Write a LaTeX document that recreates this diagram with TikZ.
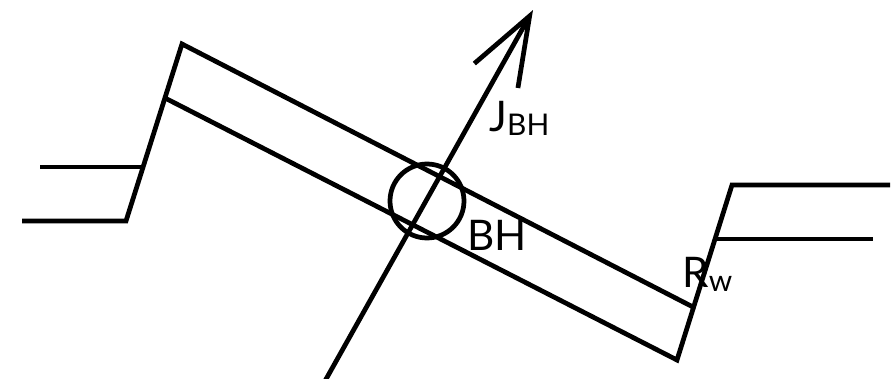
\documentclass[tikz,border=0pt]{standalone}
\usepackage{fontspec}
\setmainfont{Lato}
\usetikzlibrary{arrows.meta}

\begin{document}
\begin{tikzpicture}[x=0.02cm,y=-0.02cm,line width=2.7pt,>={Straight Barb[length=1.37cm,width=1.0cm]}]
\tikzstyle{lbl}=[inner sep=0pt,anchor=base west,font=\fontsize{24}{28}\selectfont]
\newcommand{\lowsub}[1]{\raisebox{-2.3pt}{\fontsize{17}{20}\selectfont #1}}
\useasboundingbox (0,0) rectangle (894,379);
% left step
\coordinate (la) at (40,167);
\coordinate (lf) at (143,167);
\coordinate (lb) at (22,221);
\coordinate (lc) at (126,221);
\coordinate (ltop) at (182,44);
\coordinate (lin) at (165,98);
% right step
\coordinate (ra) at (890,185);
\coordinate (rtop) at (732,185);
\coordinate (rbot) at (677,360);
\coordinate (rin) at (693,307);
\coordinate (re) at (715,239);
\coordinate (rf) at (873,239);
\draw (la) -- (lf);
\draw (lb) -- (lc) -- (ltop) -- (rin);
\draw (lin) -- (rbot) -- (rtop) -- (ra);
\draw (re) -- (rf);
% current through the hole
\coordinate (jfoot) at (325,381);
\coordinate (jtip) at (533,10);
\draw[->] (jfoot) -- (jtip);
\node[draw,circle,inner sep=0pt,minimum size=1.48cm] (hole) at (427,201) {};
\node[lbl] (jbh) at (487,131) {J\lowsub{BH}};
\node[lbl] (bh) at (465,250) {BH};
\node[lbl] (rw) at (680,287) {R\lowsub{w}};
\end{tikzpicture}
\end{document}
